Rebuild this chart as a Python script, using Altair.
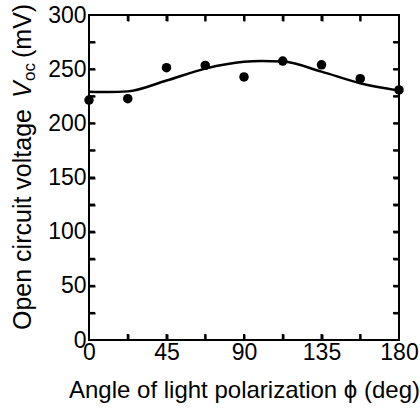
import altair as alt
import pandas as pd

# measured data points
angle_deg = [0, 22.5, 45, 67.5, 90, 112.5, 135, 157.5, 180]
voc_mv = [221.5, 222.8, 251.4, 253.5, 242.8, 257.5, 254.0, 241.2, 230.8]

# fitted curve
fit_angle = [0, 11.25, 22.5, 45, 67.5, 90, 100, 112.5, 135, 157.5, 180]
fit_voc = [229.2, 228.9, 229.5, 239.5, 250.5, 256.8, 257.5, 257.0, 247.7, 237.0, 230.2]

# axis ticks
x_labels = [0, 45, 90, 135, 180]
x_tick_pos = [22.5, 45, 67.5, 90, 112.5, 135, 157.5]
y_labels = [0, 50, 100, 150, 200, 250, 300]
y_tick_pos = [25, 50, 75, 100, 125, 150, 175, 200, 225, 250, 275]

W, H = 310, 325
FONT = "Liberation Sans"
TL = 6

pts = pd.DataFrame({"x": angle_deg, "y": voc_mv})
fit = pd.DataFrame({"x": fit_angle, "y": fit_voc})
xt = pd.DataFrame({"x": x_tick_pos})
yt = pd.DataFrame({"y": y_tick_pos})
one = pd.DataFrame({"a": [0]})

xscale = alt.Scale(domain=[0, 180], nice=False, zero=False)
yscale = alt.Scale(domain=[0, 300], nice=False, zero=False)

xaxis = alt.Axis(values=x_labels, ticks=False, domain=False, grid=False,
                 labelFont=FONT, labelFontSize=23, labelColor="black", labelPadding=1,
                 labelFlush=False, labelOverlap=False,
                 title="Angle of light polarization  ϕ  (deg)", titleFont=FONT,
                 titleFontSize=24, titleFontWeight="normal", titleColor="black",
                 titlePadding=14)
yaxis = alt.Axis(values=y_labels, ticks=False, domain=False, grid=False,
                 labelFont=FONT, labelFontSize=23, labelColor="black", labelPadding=3,
                 labelFlush=False, labelOverlap=False,
                 title="")


def tick_axis(orient, values):
    # inward ticks: axis pulled inside the frame, ticks pointing back to the edge
    return alt.Axis(orient=orient, offset=-TL, values=values, ticks=True, tickSize=TL,
                    tickWidth=2, tickColor="black", labels=False, domain=False,
                    grid=False, title=None)


X = alt.X("x:Q", scale=xscale, axis=xaxis)
Y = alt.Y("y:Q", scale=yscale, axis=yaxis)
Xn = alt.X("x:Q", scale=xscale, axis=None)
Yn = alt.Y("y:Q", scale=yscale, axis=None)

# plot frame
frame = alt.Chart(one).mark_rect(fill="transparent", stroke="black", strokeWidth=2).encode(
    x=alt.value(0), x2=alt.value(W), y=alt.value(0), y2=alt.value(H))

line = alt.Chart(fit).mark_line(color="black", strokeWidth=2.5, interpolate="monotone").encode(
    x=X, y=Y)
dots = alt.Chart(pts).mark_circle(color="black", size=90, opacity=1).encode(x=Xn, y=Yn)

rule_style = dict(color="black", strokeWidth=2)
tb = alt.Chart(xt).mark_rule(**rule_style).encode(
    x=alt.X("x:Q", scale=xscale, axis=tick_axis("bottom", x_tick_pos)),
    y=alt.value(H), y2=alt.value(H - TL))
tt = alt.Chart(xt).mark_rule(**rule_style).encode(
    x=alt.X("x:Q", scale=xscale, axis=tick_axis("top", x_tick_pos)),
    y=alt.value(0), y2=alt.value(TL))
tl = alt.Chart(yt).mark_rule(**rule_style).encode(
    y=alt.Y("y:Q", scale=yscale, axis=tick_axis("left", y_tick_pos)),
    x=alt.value(0), x2=alt.value(TL))
tr = alt.Chart(yt).mark_rule(**rule_style).encode(
    y=alt.Y("y:Q", scale=yscale, axis=tick_axis("right", y_tick_pos)),
    x=alt.value(W), x2=alt.value(W - TL))

# y-axis title built from segments (italic V, subscript oc)
bx = -58
t1 = alt.Chart(one).mark_text(text="Open circuit voltage", angle=270, align="left",
                              baseline="alphabetic", font=FONT, fontSize=25, color="black").encode(
    x=alt.value(bx), y=alt.value(315))
t2 = alt.Chart(one).mark_text(text="V", angle=270, align="left", baseline="alphabetic",
                              font=FONT, fontSize=25, fontStyle="italic", color="black").encode(
    x=alt.value(bx), y=alt.value(83))
t3 = alt.Chart(one).mark_text(text="oc", angle=270, align="left", baseline="alphabetic",
                              font=FONT, fontSize=17, color="black").encode(
    x=alt.value(bx + 4), y=alt.value(66))
t4 = alt.Chart(one).mark_text(text="(mV)", angle=270, align="left", baseline="alphabetic",
                              font=FONT, fontSize=25, color="black").encode(
    x=alt.value(bx), y=alt.value(43))

chart = alt.layer(frame, line, dots, tb, tt, tl, tr, t1, t2, t3, t4).resolve_axis(
    x="independent", y="independent"
).properties(
    width=W, height=H,
    autosize=alt.AutoSizeParams(type="none"),
    padding={"left": 89, "top": 15, "right": 21, "bottom": 68},
    background="white",
).configure_view(strokeWidth=0, stroke="transparent")

chart.save("out.html", embed_options={"renderer": "svg", "actions": False})
